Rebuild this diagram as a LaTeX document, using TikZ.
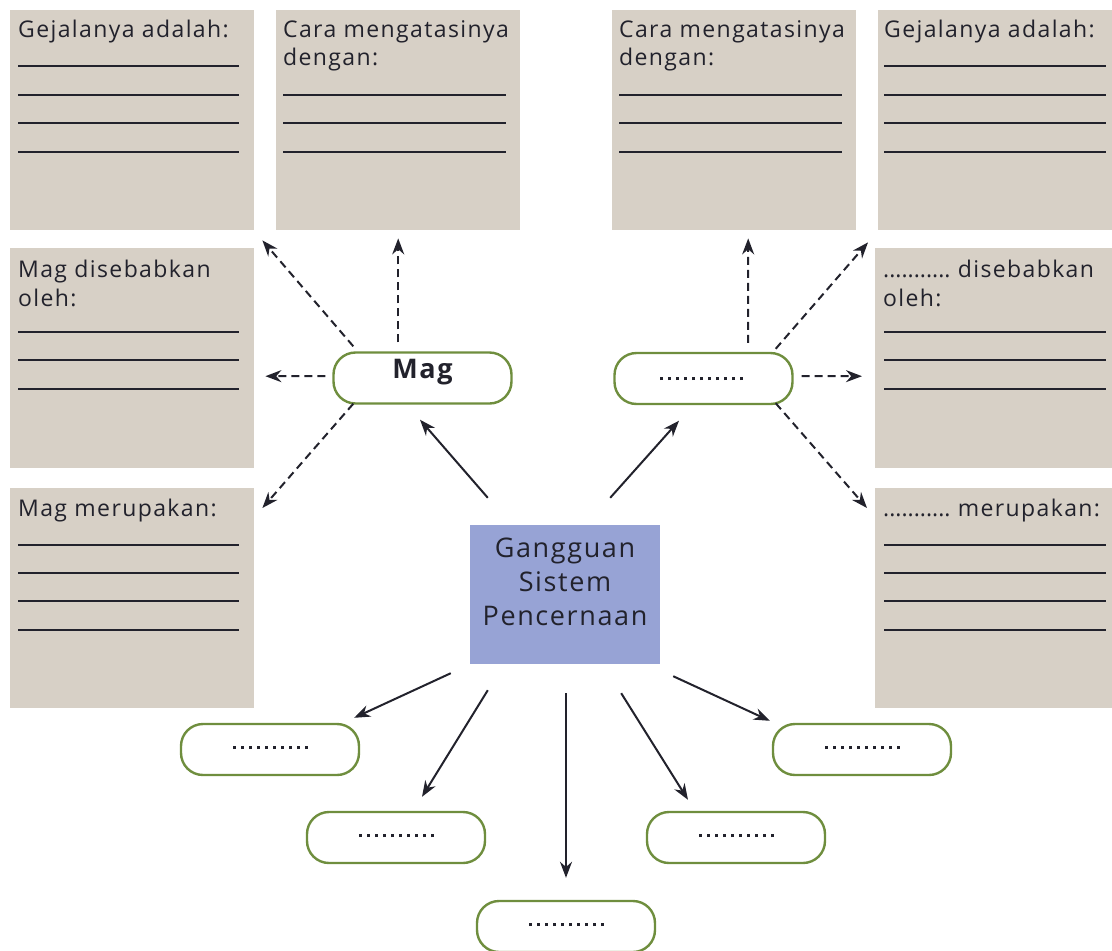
\documentclass[tikz,border=0pt]{standalone}
\usepackage{fontspec}
\setmainfont{Open Sans}[LetterSpace=6]
\usetikzlibrary{arrows.meta,positioning}

\definecolor{kotak}{HTML}{D7D0C6}
\definecolor{biru}{HTML}{97A3D5}
\definecolor{hijau}{HTML}{6F8E3E}
\definecolor{tinta}{HTML}{22222C}

% deretan titik pengisi
\newcommand{\deret}[1]{\foreach \i in {1,...,#1}{\rule{3pt}{3pt}\hspace{5pt}}\hspace{-5pt}}
\newcommand{\titikrapat}{{\addfontfeature{LetterSpace=0}...........}}

\tikzset{
  kotakabu/.style={fill=kotak, draw=none, anchor=north west, inner sep=0pt, minimum height=220pt},
  isi/.style={anchor=north west, inner sep=0pt, align=left, text=tinta, font=\fontsize{23}{28.5}\selectfont},
  garis/.style={draw=tinta, line width=1.3pt},
  kapsul/.style={draw=hijau, line width=2.4pt, fill=white, rounded corners=22pt,
    minimum width=178pt, minimum height=51pt, inner sep=0pt, text=tinta, font=\fontsize{21}{24}\selectfont},
  panah/.style={draw=tinta, line width=2pt, -{Stealth[length=16pt,width=12pt]}},
  panahputus/.style={panah, dash pattern=on 8pt off 5pt},
}

\begin{document}
\begin{tikzpicture}[x=1pt, y=-1pt]
    \useasboundingbox (0,0) rectangle (1112,951);

    % kotak isian kiri
    \node[kotakabu, minimum width=244pt] (gejala1) at (10,10) {};
    \node[kotakabu, minimum width=244pt] (cara1)   at (276,10) {};
    \node[kotakabu, minimum width=244pt] (sebab1)  at (10,248) {};
    \node[kotakabu, minimum width=244pt] (merupa1) at (10,488) {};
    % kotak isian kanan
    \node[kotakabu, minimum width=244pt] (cara2)   at (612,10) {};
    \node[kotakabu, minimum width=234pt] (gejala2) at (878,10) {};
    \node[kotakabu, minimum width=237pt] (sebab2)  at (875,248) {};
    \node[kotakabu, minimum width=237pt] (merupa2) at (875,488) {};

    % teks
    \node[isi] at (18,20)  {Gejalanya adalah:};
    \node[isi] at (283,20) {Cara mengatasinya\\dengan:};
    \node[isi] at (18,260) {Mag disebabkan\\oleh:};
    \node[isi] at (18,499) {Mag merupakan:};
    \node[isi] at (619,20) {Cara mengatasinya\\dengan:};
    \node[isi] at (884,20) {Gejalanya adalah:};
    \node[isi] at (883,260) {\titikrapat\ disebabkan\\oleh:};
    \node[isi] at (883,499) {\titikrapat\ merupakan:};

    % garis isian
    \foreach \y in {66, 95, 123, 152}
        \draw[garis] (18,\y) -- (239,\y);
    \foreach \y in {95, 123, 152}
        \draw[garis] (283,\y) -- (506,\y);
    \foreach \y in {332, 360, 389}
        \draw[garis] (18,\y) -- (239,\y);
    \foreach \y in {545, 573, 601, 630}
        \draw[garis] (18,\y) -- (239,\y);
    \foreach \y in {95, 123, 152}
        \draw[garis] (619,\y) -- (842,\y);
    \foreach \y in {66, 95, 123, 152}
        \draw[garis] (884,\y) -- (1106,\y);
    \foreach \y in {332, 360, 389}
        \draw[garis] (884,\y) -- (1106,\y);
    \foreach \y in {545, 573, 601, 630}
        \draw[garis] (884,\y) -- (1106,\y);

    % pusat dan kapsul
    \node[fill=biru, minimum width=190pt, minimum height=139pt, inner sep=0pt,
          text=tinta, font=\fontsize{27}{34}\selectfont] (pusat) at (565,594.5)
          {\raisebox{4pt}[0pt][0pt]{\begin{tabular}{@{}c@{}}Gangguan\\Sistem\\Pencernaan\end{tabular}}};
    \node[kapsul, font=\fontsize{27}{30}\selectfont\bfseries] (mag) at (422.5,378) {\raisebox{0pt}[0pt][0pt]{Mag}};
    \node[kapsul] (titik) at (703.5,378.5) {\deret{11}};
    \node[kapsul] (b1) at (270,749.5) {\raisebox{4pt}{\deret{10}}};
    \node[kapsul] (b2) at (396,837.5) {\raisebox{4pt}{\deret{10}}};
    \node[kapsul] (b3) at (566,926.5) {\raisebox{4pt}{\deret{10}}};
    \node[kapsul] (b4) at (736,837.5) {\raisebox{4pt}{\deret{10}}};
    \node[kapsul] (b5) at (862,749.5) {\raisebox{4pt}{\deret{10}}};

    % panah putus-putus dari Mag
    \draw[panahputus] (mag.north -| cara1.south) ++(0,-9) -- ([yshift=-8pt]cara1.south);
    \draw[panahputus] ([xshift=21pt,yshift=5pt]mag.north west) -- ([xshift=8pt,yshift=-10pt]gejala1.south east);
    \draw[panahputus] ([xshift=-7pt,yshift=2pt]mag.west) -- ([xshift=11pt,yshift=-18pt]sebab1.east);
    \draw[panahputus] ([xshift=21pt,yshift=1pt]mag.south west) -- ([xshift=8pt,yshift=-20pt]merupa1.north east);
    % panah putus-putus dari titik
    \draw[panahputus] ([xshift=44.5pt,yshift=9pt]titik.north) -- ([xshift=14pt,yshift=-8pt]cara2.south);
    \draw[panahputus] ([xshift=-18pt,yshift=3pt]titik.north east) -- ([xshift=-10pt,yshift=-12pt]gejala2.south west);
    \draw[panahputus] ([xshift=8pt,yshift=2.5pt]titik.east) -- ([xshift=-13pt,yshift=-18pt]sebab2.west);
    \draw[panahputus] ([xshift=-18pt,yshift=2pt]titik.south east) -- ([xshift=-8pt,yshift=-20pt]merupa2.north west);

    % panah dari pusat
    \draw[panah] ([xshift=18pt,yshift=27pt]pusat.north west) -- ([xshift=-2.5pt,yshift=-15pt]mag.south);
    \draw[panah] ([xshift=-50pt,yshift=27pt]pusat.north east) -- ([xshift=-24.5pt,yshift=-15.5pt]titik.south);
    \draw[panah] ([xshift=-19pt,yshift=-9pt]pusat.south west) -- ([xshift=-6pt,yshift=5pt]b1.north east);
    \draw[panah] ([xshift=18pt,yshift=-26pt]pusat.south west) -- ([xshift=26pt,yshift=14pt]b2.north);
    \draw[panah] (pusat.south -| b3.north) ++(0,29) -- ([yshift=22pt]b3.north);
    \draw[panah] ([xshift=-39pt,yshift=-29pt]pusat.south east) -- ([xshift=-48pt,yshift=11pt]b4.north);
    \draw[panah] ([xshift=13pt,yshift=-12pt]pusat.south east) -- ([xshift=-2pt,yshift=2pt]b5.north west);
\end{tikzpicture}
\end{document}
